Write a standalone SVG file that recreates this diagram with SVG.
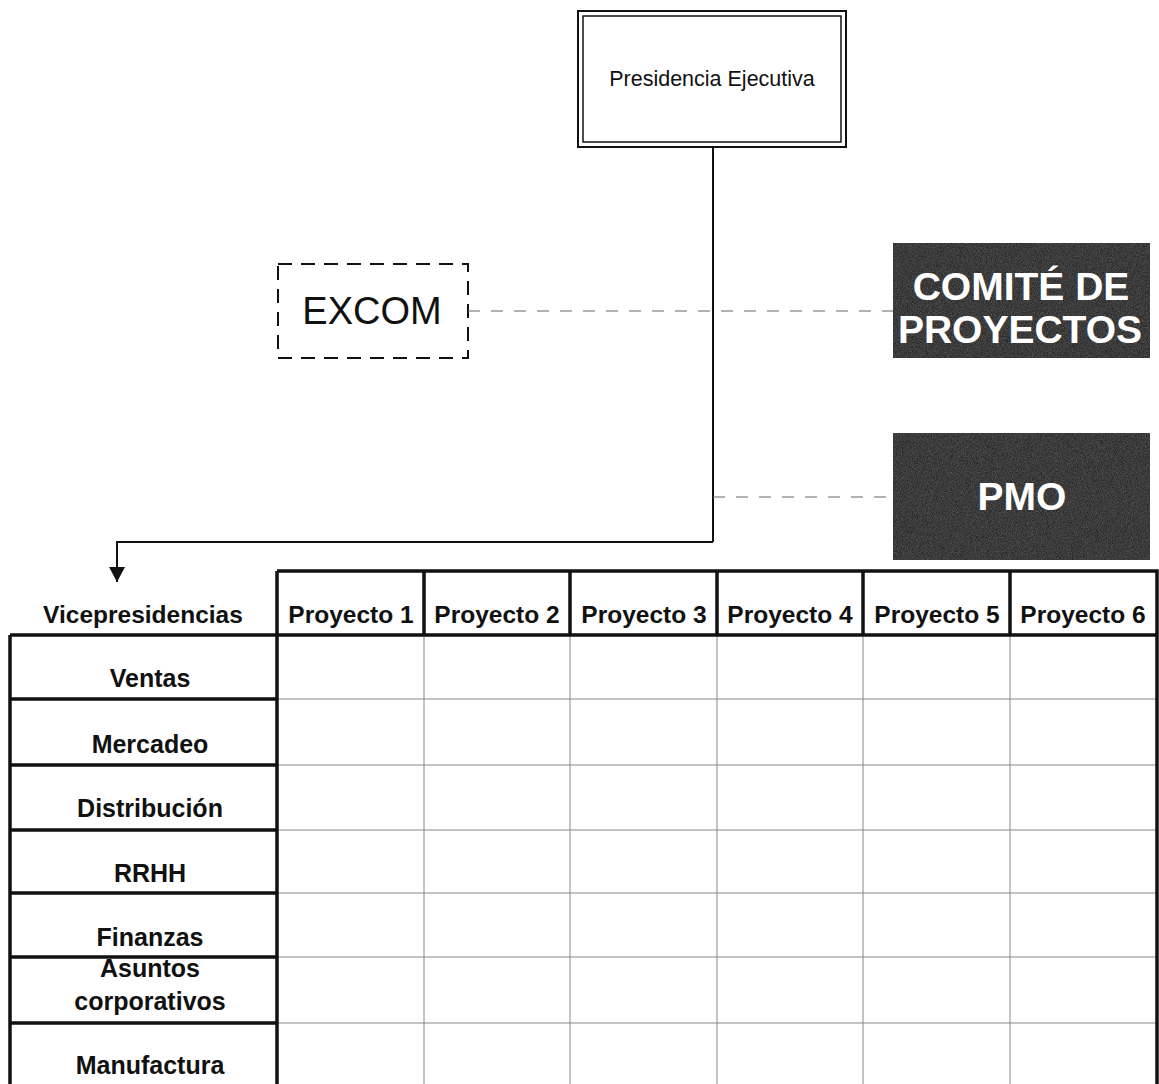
<svg xmlns="http://www.w3.org/2000/svg" width="1159" height="1084" viewBox="0 0 1159 1084">
  <defs>
    <marker id="arrow" markerWidth="18" markerHeight="18" refX="15" refY="9" orient="auto" markerUnits="userSpaceOnUse" viewBox="0 0 18 18">
      <path d="M0,1 L15,9 L0,17 Z" fill="#111"/>
    </marker>
    <!-- grainy fill for the dark boxes -->
    <filter id="grain" x="0" y="0" width="100%" height="100%" color-interpolation-filters="sRGB">
      <feTurbulence type="fractalNoise" baseFrequency="1.2" numOctaves="1" seed="3" result="noise"/>
      <feColorMatrix in="noise" type="matrix" values="0 0 0 0 1  0 0 0 0 1  0 0 0 0 1  0.4 0 0 0 -0.1" result="speck"/>
      <feComposite in="speck" in2="SourceGraphic" operator="in" result="speckIn"/>
      <feMerge>
        <feMergeNode in="SourceGraphic"/>
        <feMergeNode in="speckIn"/>
      </feMerge>
    </filter>
    <style>
      text { font-family: "Liberation Sans", Arial, sans-serif; fill: #111; }
      .hdr { font-size: 24.5px; font-weight: bold; text-anchor: middle; }
      .row { font-size: 25px; font-weight: bold; text-anchor: middle; }
      .dark { fill: #262626; }
      .darktxt { fill: #fff; font-size: 39px; font-weight: bold; text-anchor: middle; }
      .thick { stroke: #111; stroke-width: 3.5; fill: none; }
      .thin { stroke: #888; stroke-width: 1; fill: none; }
      .dash { stroke: #666; stroke-width: 1.2; stroke-dasharray: 12 11; fill: none; }
      .line { stroke: #111; stroke-width: 2; fill: none; }
    </style>
  </defs>
  <rect width="1159" height="1084" fill="#fff"/>

  <!-- Executive presidency -->
  <g id="presidencia">
    <rect x="578" y="11" width="268" height="136" fill="#fff" stroke="#111" stroke-width="2"/>
    <rect x="583" y="16" width="258" height="126" fill="none" stroke="#111" stroke-width="1.5"/>
    <text x="712" y="86" font-size="21.5" text-anchor="middle">Presidencia Ejecutiva</text>
  </g>

  <!-- Executive committee -->
  <g id="excom">
    <rect x="278" y="264" width="190" height="94" fill="none" stroke="#111" stroke-width="2" stroke-dasharray="14 9"/>
    <text x="372" y="324" font-size="38" text-anchor="middle">EXCOM</text>
  </g>

  <!-- Project committee -->
  <g id="comite">
    <rect class="dark" x="893" y="243" width="257" height="115" filter="url(#grain)"/>
    <text class="darktxt" x="1021" y="300">COMITÉ DE</text>
    <text class="darktxt" x="1020" y="343">PROYECTOS</text>
  </g>

  <!-- Project management office -->
  <g id="pmo">
    <rect class="dark" x="893" y="433" width="257" height="127" filter="url(#grain)"/>
    <text class="darktxt" x="1022" y="510">PMO</text>
  </g>

  <!-- Connectors -->
  <g id="connectors">
    <path class="line" d="M713,147 V542"/>
    <path class="line" d="M713,542 H117 V582" marker-end="url(#arrow)"/>
    <path class="dash" d="M468,311 H893"/>
    <path class="dash" d="M713,497 H893"/>
  </g>

  <!-- Matrix: vice-presidencies x projects -->
  <g id="matriz">
    <!-- thin grid -->
    <g class="thin">
      <path d="M277,699 H1157 M277,765 H1157 M277,830 H1157 M277,893 H1157 M277,957 H1157 M277,1023 H1157"/>
      <path d="M424,635 V1084 M570,635 V1084 M717,635 V1084 M863,635 V1084 M1010,635 V1084"/>
    </g>
    <!-- heavy borders -->
    <g class="thick">
      <path d="M277,571 H1157 V1084"/>
      <path d="M277,571 V1084"/>
      <path d="M424,571 V635 M570,571 V635 M717,571 V635 M863,571 V635 M1010,571 V635"/>
      <path d="M10,635 H1157"/>
      <path d="M10,635 V1084"/>
      <path d="M10,699 H277 M10,765 H277 M10,830 H277 M10,893 H277 M10,957 H277 M10,1023 H277"/>
    </g>

    <text class="hdr" x="143" y="623" font-size="25.5">Vicepresidencias</text>
    <text class="hdr" x="351" y="623">Proyecto 1</text>
    <text class="hdr" x="497" y="623">Proyecto 2</text>
    <text class="hdr" x="644" y="623">Proyecto 3</text>
    <text class="hdr" x="790" y="623">Proyecto 4</text>
    <text class="hdr" x="937" y="623">Proyecto 5</text>
    <text class="hdr" x="1083" y="623">Proyecto 6</text>

    <text class="row" x="150" y="687">Ventas</text>
    <text class="row" x="150" y="753">Mercadeo</text>
    <text class="row" x="150" y="817">Distribución</text>
    <text class="row" x="150" y="882">RRHH</text>
    <text class="row" x="150" y="946">Finanzas</text>
    <text class="row" x="150" y="977">Asuntos</text>
    <text class="row" x="150" y="1010">corporativos</text>
    <text class="row" x="150" y="1074">Manufactura</text>
  </g>
</svg>
